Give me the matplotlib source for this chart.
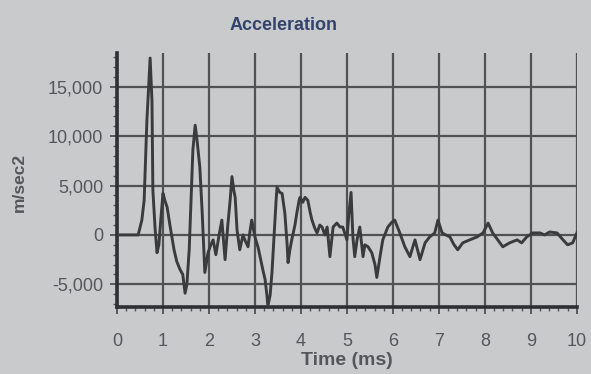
import matplotlib.pyplot as plt
from matplotlib.ticker import MultipleLocator, FuncFormatter

# valeurs (temps en ms, acceleration en m/sec2)
time_ms = [0.00, 0.46, 0.54, 0.59, 0.65, 0.72, 0.76, 0.78, 0.83, 0.87, 0.91, 0.96,
           1.00, 1.04, 1.09, 1.15, 1.24, 1.30, 1.37, 1.43, 1.48, 1.52, 1.57, 1.61,
           1.65, 1.70, 1.74, 1.80, 1.85, 1.91, 1.98, 2.04, 2.09, 2.15, 2.22, 2.28,
           2.35, 2.41, 2.46, 2.50, 2.54, 2.57, 2.61, 2.67, 2.74, 2.78, 2.85, 2.89,
           2.93, 3.00, 3.07, 3.11, 3.17, 3.22, 3.26, 3.28, 3.33, 3.37, 3.41, 3.46,
           3.48, 3.54, 3.59, 3.65, 3.70, 3.72, 3.76, 3.80, 3.87, 3.91, 3.96, 3.98,
           4.04, 4.09, 4.15, 4.20, 4.24, 4.30, 4.35, 4.41, 4.46, 4.52, 4.57, 4.63,
           4.70, 4.78, 4.85, 4.91, 5.00, 5.04, 5.09, 5.13, 5.17, 5.22, 5.28, 5.35,
           5.39, 5.46, 5.54, 5.61, 5.65, 5.72, 5.78, 5.89, 5.98, 6.04, 6.15, 6.26,
           6.37, 6.48, 6.59, 6.70, 6.80, 6.91, 6.98, 7.07, 7.15, 7.24, 7.33, 7.41,
           7.52, 7.67, 7.83, 7.96, 8.07, 8.17, 8.28, 8.39, 8.54, 8.70, 8.80, 8.91,
           9.04, 9.20, 9.30, 9.41, 9.57, 9.70, 9.80, 9.91, 10.00]
accel = [0, 0, 1500, 3500, 11600, 17900, 13600, 4500, 500, -1800, -1000, 2000,
         4200, 3500, 2800, 1000, -1500, -2700, -3500, -4000, -5900, -5000, -1500, 3500,
         8600, 11100, 9600, 6900, 2500, -3800, -1800, -1000, -500, -2000, 0, 1500,
         -2500, 1000, 3500, 5900, 4500, 3800, 500, -1500, 0, -500, -1200, 300,
         1500, -200, -1300, -2200, -3500, -4500, -6100, -7200, -6100, -3800, -500, 3500,
         4800, 4300, 4200, 2200, -1000, -2800, -1500, -500, 1000, 2200, 3500, 3800,
         3300, 3800, 3500, 2300, 1500, 700, 200, 1000, 800, 0, 800, -2200,
         800, 1200, 800, 800, -500, 2000, 4300, -200, -2200, -500, 800, -2200,
         -1000, -1200, -1800, -3000, -4300, -2200, -500, 800, 1300, 1500, 200, -1200,
         -2200, -500, -2500, -800, -200, 200, 1500, 200, 0, -200, -1000, -1500,
         -800, -500, -200, 200, 1200, 200, -500, -1200, -800, -500, -800, -200,
         200, 200, 0, 300, 200, -500, -1000, -800, 200]

x_ticks = list(range(0, 11))
y_ticks = [-5000, 0, 5000, 10000, 15000]

paper = '#c8cacb'
ink = '#3a3b3d'
grey_txt = '#55575a'

fig = plt.figure(figsize=(5.91, 3.74), dpi=100, facecolor=paper)
ax = fig.add_axes([0.198, 0.179, 0.778, 0.679])
ax.set_facecolor(paper)

ax.plot(time_ms, accel, color=ink, lw=2.1, zorder=3)

ax.set_xlim(0, 10)
ax.set_ylim(-7300, 18400)
ax.set_xticks(x_ticks)
ax.set_yticks(y_ticks)
ax.xaxis.set_minor_locator(MultipleLocator(0.2))
ax.yaxis.set_minor_locator(MultipleLocator(1000))
ax.yaxis.set_major_formatter(FuncFormatter(lambda v, p: '{:,.0f}'.format(v)))

ax.grid(True, which='major', color='#505254', lw=1.6, zorder=1)
for s in ['top', 'right']:
    ax.spines[s].set_visible(False)
for s in ['left', 'bottom']:
    ax.spines[s].set_color('#2f3033')
    ax.spines[s].set_linewidth(2.6)

ax.tick_params(which='major', length=5, width=1.2, color='#44464a',
               labelsize=13, labelcolor=grey_txt)
ax.tick_params(axis='x', which='major', pad=14)
ax.tick_params(axis='y', which='major', pad=5)
ax.tick_params(which='minor', length=3, width=1, color='#55575a')
for lab in ax.get_xticklabels() + ax.get_yticklabels():
    lab.set_family('Liberation Sans')

ax.set_xlabel('Time (ms)', fontsize=14, fontweight='bold', color=grey_txt,
              family='Liberation Sans', labelpad=1)
fig.text(0.033, 0.513, 'm/sec2', rotation=90, ha='center', va='center',
         fontsize=12.5, fontweight='bold', color=grey_txt, family='Liberation Sans')
fig.text(0.48, 0.932, 'Acceleration', ha='center', va='center', fontsize=13,
         fontweight='bold', color='#33436c', family='Liberation Sans')

fig.savefig('out.png', dpi=100, facecolor=paper)
